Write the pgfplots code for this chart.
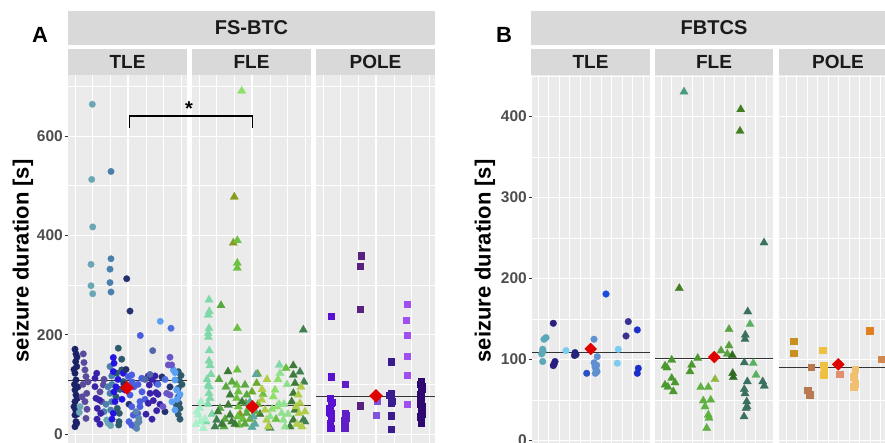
\documentclass[border=0pt]{standalone}
\usepackage{pgfplots}
\pgfplotsset{compat=1.18}
\usepackage{fontspec}
\setmainfont{Liberation Sans}

\definecolor{panelbg}{HTML}{EBEBEB}
\definecolor{stripbg}{HTML}{D9D9D9}
\definecolor{striptxt}{HTML}{1A1A1A}
\definecolor{tickgray}{HTML}{4D4D4D}
\definecolor{ggred}{HTML}{E00000}
% TLE A
\definecolor{navy}{HTML}{1C2268}
\definecolor{purpA}{HTML}{5A4A9E}
\definecolor{tealA}{HTML}{6AA6B4}
\definecolor{steelA}{HTML}{4A80AE}
\definecolor{slateA}{HTML}{2E5A6E}
\definecolor{bblueA}{HTML}{2414E0}
\definecolor{dnavyA}{HTML}{25306E}
\definecolor{royalA}{HTML}{4A5CE0}
\definecolor{sgrayA}{HTML}{5A86B0}
\definecolor{indigoA}{HTML}{3A22A8}
\definecolor{sblueA}{HTML}{4F66A8}
\definecolor{lblueA}{HTML}{5AA0F5}
\definecolor{cornfA}{HTML}{4E6FE0}
\definecolor{violA}{HTML}{6A55C8}
% FLE A
\definecolor{mintF}{HTML}{7ED8A8}
\definecolor{lmintF}{HTML}{A8F0C8}
\definecolor{ltgrF}{HTML}{8EE06A}
\definecolor{oliveF}{HTML}{8A9A20}
\definecolor{grF}{HTML}{6CC040}
\definecolor{gr2F}{HTML}{5AA840}
\definecolor{dkgrF}{HTML}{3E7A38}
\definecolor{dktF}{HTML}{3F7F50}
\definecolor{grassF}{HTML}{6CAA30}
\definecolor{ygF}{HTML}{B0CC48}
\definecolor{tealF}{HTML}{5AA8A0}
\definecolor{lgr2F}{HTML}{90E090}
% POLE A
\definecolor{dpurP}{HTML}{5A2080}
\definecolor{violP}{HTML}{5A10D0}
\definecolor{viol3P}{HTML}{6020C8}
\definecolor{lpurP}{HTML}{A050F0}
\definecolor{mpurP}{HTML}{8050E0}
\definecolor{dindP}{HTML}{3A1C90}
\definecolor{vdpP}{HTML}{2E0A70}
% B
\definecolor{tealB}{HTML}{5AA8B8}
\definecolor{navyB}{HTML}{2A1F80}
\definecolor{skyB}{HTML}{7ACCF0}
\definecolor{navy2B}{HTML}{25237A}
\definecolor{steelB}{HTML}{6090D0}
\definecolor{blueB}{HTML}{2A50C8}
\definecolor{brightB}{HTML}{1A4ADB}
\definecolor{purpB}{HTML}{3A3290}
\definecolor{blue2B}{HTML}{1A30C8}
\definecolor{tgB}{HTML}{4A9A80}
\definecolor{gB}{HTML}{3F7F20}
\definecolor{dtB}{HTML}{3A7060}
\definecolor{lgB}{HTML}{5AB060}
\definecolor{g2B}{HTML}{5AA040}
\definecolor{dgB}{HTML}{2F6A20}
\definecolor{mgB}{HTML}{4C9830}
\definecolor{lg2B}{HTML}{5EB040}
\definecolor{ygB}{HTML}{90B840}
\definecolor{goldD}{HTML}{C89020}
\definecolor{goldP}{HTML}{F0C040}
\definecolor{brownP}{HTML}{B87850}
\definecolor{salmP}{HTML}{E09070}
\definecolor{lgoldP}{HTML}{F0C070}
\definecolor{oranP}{HTML}{E08020}
\definecolor{boranP}{HTML}{D08850}

\pgfplotsset{
  facet/.style={
    scale only axis, anchor=south west,
    axis background/.style={fill=panelbg},
    axis line style={draw=none},
    grid=both,
    major grid style={white, line width=1.1pt},
    minor grid style={white, line width=0.55pt},
    xticklabels={}, xtick style={draw=none},
    tick align=outside, major tick length=3.5pt, minor tick length=0pt,
    ytick pos=left,
    ytick style={color=black!80, line width=0.6pt},
    /pgf/number format/assume math mode=true,
    yticklabel style={font=\bfseries\fontsize{15.5}{15.5}\selectfont, text=tickgray, inner sep=1.5pt},
    height=368pt,
  },
  facetA/.style={facet, ymin=-18, ymax=723, ytick={0,200,400,600}, minor ytick={100,300,500,700}},
  facetB/.style={facet, ymin=-3, ymax=451, ytick={0,100,200,300,400}, minor ytick={50,150,250,350,450}},
  noylab/.style={yticklabels={}, ytick style={draw=none}},
  pt/.style={only marks, mark=*, mark size=3.3pt, mark options={draw=#1, fill=#1, line width=0.2pt}},
  ptb/.style={only marks, mark=*, mark size=3.4pt, mark options={draw=#1, fill=#1, line width=0.2pt}},
  tri/.style={only marks, mark=triangle*, mark size=4.8pt, mark options={draw=#1, fill=#1, line width=0.2pt}},
  sq/.style={only marks, mark=square*, mark size=3.1pt, mark options={draw=#1, fill=#1, line width=0.2pt}},
  sqb/.style={only marks, mark=square*, mark size=3.3pt, mark options={draw=#1, fill=#1, line width=0.2pt}},
  meanl/.style={draw=black!80, line width=1.1pt, no marks},
  dia/.style={only marks, mark=square*, mark size=#1, mark options={draw=ggred, fill=ggred, rotate=45}},
}

\begin{document}
\begin{tikzpicture}
\useasboundingbox (0pt,0pt) rectangle (885pt,443pt);
\clip (0pt,0pt) rectangle (885pt,443pt);

% ---------------- Panel A strips ----------------
\fill[stripbg] (68pt,398pt) rectangle (435pt,432pt);
\node[text=striptxt, font=\bfseries\fontsize{20}{20}\selectfont] at (251.5pt,415pt) {FS-BTC};
\fill[stripbg] (68pt,368pt) rectangle (187pt,394pt);
\fill[stripbg] (192pt,368pt) rectangle (311pt,394pt);
\fill[stripbg] (316pt,368pt) rectangle (435pt,394pt);
\node[text=striptxt, font=\bfseries\fontsize{19}{19}\selectfont] at (127.5pt,381pt) {TLE};
\node[text=striptxt, font=\bfseries\fontsize{19}{19}\selectfont] at (251.5pt,381pt) {FLE};
\node[text=striptxt, font=\bfseries\fontsize{19}{19}\selectfont] at (375.5pt,381pt) {POLE};
\node[font=\bfseries\fontsize{22}{22}\selectfont] at (40pt,408pt) {A};
\node[rotate=90, font=\bfseries\fontsize{22}{22}\selectfont] at (23pt,182pt) {seizure duration [s]};

% ---------------- Panel B strips ----------------
\fill[stripbg] (531pt,398pt) rectangle (897pt,432pt);
\node[text=striptxt, font=\bfseries\fontsize{20}{20}\selectfont] at (714pt,415pt) {FBTCS};
\fill[stripbg] (531pt,368pt) rectangle (650pt,394pt);
\fill[stripbg] (655pt,368pt) rectangle (773pt,394pt);
\fill[stripbg] (779pt,368pt) rectangle (897pt,394pt);
\node[text=striptxt, font=\bfseries\fontsize{19}{19}\selectfont] at (590.5pt,381pt) {TLE};
\node[text=striptxt, font=\bfseries\fontsize{19}{19}\selectfont] at (714pt,381pt) {FLE};
\node[text=striptxt, font=\bfseries\fontsize{19}{19}\selectfont] at (838pt,381pt) {POLE};
\node[font=\bfseries\fontsize{22}{22}\selectfont] at (504pt,408pt) {B};
\node[rotate=90, font=\bfseries\fontsize{22}{22}\selectfont] at (485pt,182pt) {seizure duration [s]};

% ================= A: TLE =================
\begin{axis}[facetA, at={(68pt,0pt)}, width=119pt, xmin=68, xmax=187,
  xtick={92.7,128,163.7}, minor xtick={75.3,110.3,146,181.3}]
\addplot[pt=navy] coordinates {(75,170.9) (76,161.4) (75.7,146) (76.7,135.9) (75,122.4) (76,109) (75,88.8) (76,78.7) (77.3,72) (75,65.3) (75.7,48.4) (75,38.3) (76,24.9) (76.7,21.5) (75,14.8) (74.5,100) (77,155) (78,95) (74,130) (77,40) (74,55)};
\addplot[pt=purpA] coordinates {(83.3,161.4) (84,144) (85,129.2) (86,115.7) (86.7,82) (85,65.3) (86,31.6) (103.3,98.9) (101.7,65.3) (83,100) (88,105) (82,75) (87,50) (100,85) (104,110)};
\addplot[pt=tealA] coordinates {(92.3,664) (91.7,512.6) (92.7,417) (91,341.7) (91,298.7) (92.7,282.5) (80,55.2) (79.3,43.7) (106.7,28.3) (108.3,21.5) (110.7,17)};
\addplot[pt=steelA] coordinates {(111,528.7) (111,353) (110,332) (110,305) (111,286) (110,135.9) (111.7,117) (110,82) (111.7,65.3) (110.7,48.4) (108,95) (112,100) (106,60) (104,45)};
\addplot[pt=slateA] coordinates {(118.3,172.9) (121.7,150.7) (116.7,122.4) (119.3,41.7) (118.7,18.2) (117.3,51.8) (121.7,129.2) (123.3,105.6) (178.3,125.8) (179,109) (178.3,92.2) (178.3,75.3) (179,61.9) (178.3,39.7) (180,51.8) (181,118) (120,90) (116,75) (182,100) (176,60) (180,30) (119,25)};
\addplot[pt=bblueA] coordinates {(113.3,154) (114,142.6) (113.3,125.8) (115,65.3) (113.3,41.7) (125,88.8) (123.3,122.4) (114,85) (118,110) (116,95) (112,30) (122,70)};
\addplot[pt=dnavyA] coordinates {(126.7,312.8) (130,247.6) (124,100) (126,130) (129,60) (162,115) (165,45) (170,95)};
\addplot[pt=royalA] coordinates {(140.3,198.4) (128.3,115.7) (131.7,119.1) (130,78.7) (131.7,55.2) (133.3,38.3) (135,14.8) (137.7,41.7) (140,55.2) (141.7,112.3) (140,65.3) (131.7,18.2) (134,95) (138,100) (132,105) (129,25) (142,85) (145,70)};
\addplot[pt=sgrayA] coordinates {(136.7,11.4) (137.3,21.5) (138.7,31.6) (136,45) (139,25)};
\addplot[pt=indigoA] coordinates {(95,95.5) (96,72) (97.3,51.8) (99.3,68.6) (100.7,41.7) (95,112.3) (96.7,122.4) (148.3,117) (149.3,98.9) (150,82) (148.3,61.9) (153.3,67.3) (155,117) (156.7,102.2) (156,83.4) (156.7,47.1) (146,40) (160,60) (97,30) (100,20) (152,30) (158,80) (152,110)};
\addplot[pt=sblueA] coordinates {(152.7,168) (150,120) (145,110)};
\addplot[pt=lblueA] coordinates {(160.3,227) (175,109) (176.7,88.8) (175,48.4) (173.3,129.2) (175,123.8) (177,70) (180,80) (172,65)};
\addplot[pt=cornfA] coordinates {(171,213) (158,100) (165,110)};
\addplot[pt=violA] coordinates {(170,154.7) (168.3,139.2) (171.7,139.2) (166.7,82) (170,78.7) (163,55)};
\addplot[meanl] coordinates {(68,107) (187,107)};
\addplot[dia=4.6pt] coordinates {(127,93)};
\end{axis}

% ================= A: FLE =================
\begin{axis}[facetA, noylab, at={(192pt,0pt)}, width=119pt, xmin=192, xmax=311,
  xtick={216.7,252,287.7}, minor xtick={199.3,234.3,270,305.3}]
\addplot[tri=mintF] coordinates {(209,270.4) (209.3,246.9) (208.3,240) (209,213) (208.3,203) (208.3,195) (209.3,168.2) (209,147.3) (210,138) (209.3,95.5) (208.3,98.9) (209,82) (210,72) (279.3,139.2) (207,110) (208,60) (211,120) (212,40) (206,25)};
\addplot[tri=lmintF] coordinates {(200,51.8) (198.3,38.3) (200,24.9) (203.3,11.4) (196,20) (201,65) (205,30) (197,45)};
\addplot[tri=ltgrF] coordinates {(241.7,690.9) (275,88.8) (273.3,75.3) (277,55) (278,110) (272,50)};
\addplot[tri=oliveF] coordinates {(234.3,477.6) (233.3,384.8) (240,40)};
\addplot[tri=grF] coordinates {(237.3,390) (237.3,344.4) (237.3,334.3) (237.3,213) (237.3,129) (236.7,98.9) (238.3,85.4) (236.7,72) (238.3,55.2) (237.7,35) (239,18.2) (286,132.5) (248,50) (243,30) (263,80) (276,30)};
\addplot[tri=gr2F] coordinates {(221,259) (220,51.8) (245,98.9) (246.7,78.7) (246,61.9) (246.7,41.7) (245,20.2) (225,30) (224,15) (226,95) (219,110) (232,105)};
\addplot[tri=dkgrF] coordinates {(228,125.8) (230,78.7) (228.3,58.5) (230,38.3) (231.7,24.9) (293.3,137.9) (293.3,119.1) (295,102.2) (293.3,82) (291.7,65.3) (295,48.4) (293.3,28.3) (222,20) (290,15) (235,20) (242,65) (218,45) (260,40)};
\addplot[tri=dktF] coordinates {(303.3,209.9) (303.3,28.3) (305,24.9) (216.7,28.3) (215,14.8) (304,105) (300,125) (270,12)};
\addplot[tri=grassF] coordinates {(257.7,121) (256.7,102.2) (252,85) (258,60) (255,45) (250,30)};
\addplot[tri=ygF] coordinates {(261.7,68.6) (265,48.4) (266.7,28.3) (268.3,14.8) (262,90) (267,110) (298.3,78.7) (300,61.9) (299,41.7) (301,95) (297,20) (302,15) (296,55) (305,45)};
\addplot[tri=tealF] coordinates {(253.3,35) (255,20.2) (252,14) (254,50) (256,120) (250,65)};
\addplot[tri=lgr2F] coordinates {(281.7,41.7) (283.3,28.3) (285,14.8) (280,122.4) (279,60) (287,100) (270,35) (288,40) (284,60)};
\addplot[meanl] coordinates {(192,57) (311,57)};
\addplot[dia=4.6pt] coordinates {(252.3,55)};
\end{axis}

% ================= A: POLE =================
\begin{axis}[facetA, noylab, at={(316pt,0pt)}, width=119pt, xmin=316, xmax=435,
  xtick={340.7,376,411.7}, minor xtick={323.3,358.3,394,429.3}]
\addplot[sq=dpurP] coordinates {(360.7,359.2) (360,337.7) (360,252.3) (360,57.2)};
\addplot[sq=violP] coordinates {(330.7,238.1) (330.7,115.7) (330,72) (331,61.9) (329.5,51.8) (330.5,41.7) (331,31.6) (330,21.5) (330.5,11.4) (331.5,65) (329,45) (330,15)};
\addplot[sq=viol3P] coordinates {(345,100.9) (345,41.7) (346,31.6) (345,21.5) (344.5,11.4) (346,38) (345,18.2) (344,27)};
\addplot[sq=lpurP] coordinates {(406.7,262.4) (406,230) (406.7,199.8) (406.7,157.4) (406.7,119.1) (406.7,59.9)};
\addplot[sq=mpurP] coordinates {(376,38.3) (376.7,67.3)};
\addplot[sq=dindP] coordinates {(390.7,146) (390.7,82) (390.7,72) (391,61.9) (390.7,37) (390.7,10) (389.5,78) (391.5,67)};
\addplot[sq=vdpP] coordinates {(421,105.6) (421.5,95.5) (421,85.4) (420.5,75.3) (421,65.3) (421.5,55.2) (421,45.1) (420.5,35) (421,22.9) (422,90) (420,60) (422,50) (420.5,100) (421,70) (422,40) (420,80)};
\addplot[meanl] coordinates {(316,75) (435,75)};
\addplot[dia=4.6pt] coordinates {(376,77)};
\end{axis}

% ================= B: TLE =================
\begin{axis}[facetB, at={(532pt,0pt)}, width=118pt, xmin=532, xmax=650,
  xtick={548.5,569.6,590.7,611.8,632.9}, minor xtick={538,559.1,580.2,601.3,622.4,643.5}]
\addplot[ptb=tealB] coordinates {(542.7,97.5) (541.7,107) (542.7,112.6) (543,110) (544,125) (546,127)};
\addplot[ptb=navyB] coordinates {(553.3,144.7) (553.3,92.5) (555,97.5) (554,94)};
\addplot[ptb=skyB] coordinates {(566,111) (618.3,112.6) (617.3,95.4)};
\addplot[ptb=navy2B] coordinates {(575,108.5) (576,106) (574.5,105)};
\addplot[ptb=steelB] coordinates {(594,125) (597.3,103.5) (594,96) (596.7,93) (596,88) (595.3,83) (595,91) (597,85)};
\addplot[ptb=blueB] coordinates {(586.7,83)};
\addplot[ptb=brightB] coordinates {(606,180.8)};
\addplot[ptb=purpB] coordinates {(626,129) (628.3,146.8)};
\addplot[ptb=blue2B] coordinates {(637.3,136.5) (638.3,89.2) (637.3,83)};
\addplot[meanl] coordinates {(532,109) (650,109)};
\addplot[dia=4.2pt] coordinates {(590.7,113)};
\end{axis}

% ================= B: FLE =================
\begin{axis}[facetB, noylab, at={(655pt,0pt)}, width=118pt, xmin=655, xmax=773,
  xtick={671.5,692.6,713.7,734.8,755.9}, minor xtick={661,682.1,703.2,724.3,745.4,766.5}]
\addplot[tri=tgB] coordinates {(684,430.3)};
\addplot[tri=gB] coordinates {(740.7,408.5) (740,381.8) (679.3,187.9)};
\addplot[tri=dtB] coordinates {(764,244.1) (747.7,159.1) (745.3,130.3) (745,125) (744.3,96.2) (747.3,72.8) (744.3,63.3) (746.7,48.1) (746,39.8) (744,29.6) (762.7,72.8) (764.3,67.5) (745,58) (747,42)};
\addplot[tri=lgB] coordinates {(750,143.5) (753.3,95.4) (756,81)};
\addplot[tri=g2B] coordinates {(729,137.3) (729,117.1) (721,110.9) (727.3,106.9)};
\addplot[tri=dgB] coordinates {(732.3,105.2) (732.7,83) (733.3,78)};
\addplot[tri=mgB] coordinates {(697.7,101.6) (671.7,99.5) (665,92.1) (667,90) (691.7,93.4) (690,85.1) (671.7,76.9) (675,71.5) (665,68.6) (673.3,60.5) (668,66)};
\addplot[tri=lg2B] coordinates {(700.7,65.8) (708.3,65.8) (703.3,49.2) (710.7,50.1) (708.3,31.7) (709,28) (706.7,15.3) (705,41.9)};
\addplot[tri=ygB] coordinates {(715,75.6)};
\addplot[meanl] coordinates {(655,101) (773,101)};
\addplot[dia=4.2pt] coordinates {(714.3,103)};
\end{axis}

% ================= B: POLE =================
\begin{axis}[facetB, noylab, at={(779pt,0pt)}, width=118pt, xmin=779, xmax=897,
  xtick={796.5,817.6,838.7,859.8,880.9}, minor xtick={786,807.1,828.2,849.3,870.4,891.5}]
\addplot[sqb=goldD] coordinates {(793.3,122.9) (793.3,107.7)};
\addplot[sqb=goldP] coordinates {(822.3,111.8) (823.3,93.3) (824,87.1) (823.3,81.4)};
\addplot[sqb=brownP] coordinates {(811,90.4) (807.3,62.5) (809.3,56.4)};
\addplot[sqb=salmP] coordinates {(839.3,81.8)};
\addplot[sqb=lgoldP] coordinates {(855,88.4) (853.3,79) (855,70) (853.3,66.6)};
\addplot[sqb=oranP] coordinates {(869.3,135.6)};
\addplot[sqb=boranP] coordinates {(881.7,100.3)};
\addplot[meanl] coordinates {(779,89.6) (897,89.6)};
\addplot[dia=4.2pt] coordinates {(838.3,94)};
\end{axis}

% significance bracket
\draw[line width=1.3pt] (129.3pt,315pt) -- (129.3pt,327pt) -- (252.7pt,327pt) -- (252.7pt,315pt);
\node[anchor=north, inner sep=0pt, font=\bfseries\fontsize{20}{20}\selectfont] at (189pt,341.3pt) {*};
\end{tikzpicture}
\end{document}
